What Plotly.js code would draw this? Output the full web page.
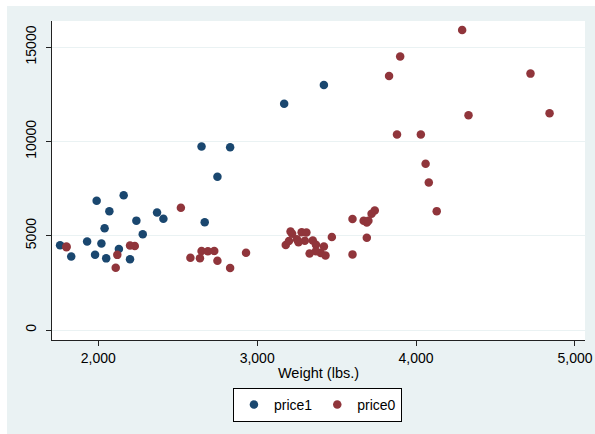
<!DOCTYPE html>
<html>
<head>
<meta charset="utf-8">
<script src="https://cdn.plot.ly/plotly-3.0.1.min.js"></script>
<style>html,body{margin:0;padding:0;background:#fff;}#chart{width:595px;height:434px;}</style>
</head>
<body>
<div id="chart"></div>
<script>
// Foreign cars (price1)
const weight1 = [2830, 2070, 2650, 2370, 2020, 2280, 2750, 2130, 2240, 1760, 1980, 3420, 1830, 2050, 2410, 2200, 2670, 2160, 2040, 1930, 1990, 3170];
const price1  = [9690, 6295, 9735, 6229, 4589, 5079, 8129, 4296, 5799, 4499, 3995, 12990, 3895, 3798, 5899, 3748, 5719, 7140, 5397, 4697, 6850, 11995];
// Domestic cars (price0)
const weight0 = [2930, 3350, 2640, 3250, 4080, 3670, 2230, 3280, 3880, 3400, 4330, 3900, 4290, 2110, 3690, 3180, 3220, 2750, 3430, 2120, 3600, 3600, 3740, 1800, 2650, 4840, 4720, 3830, 2580, 3720, 3370, 4130, 2830, 4060, 3310, 3300, 3690, 3370, 2730, 4030, 3260, 1800, 2200, 2520, 3330, 3700, 3470, 3210, 3200, 3420, 2690];
const price0  = [4099, 4749, 3799, 4816, 7827, 5788, 4453, 5189, 10372, 4082, 11385, 14500, 15906, 3299, 5705, 4504, 5104, 3667, 3955, 3984, 4010, 5886, 6342, 4389, 4187, 11497, 13594, 13466, 3829, 6165, 4516, 6303, 3291, 8814, 5172, 4733, 4890, 4181, 4195, 10371, 4647, 4425, 4482, 6486, 4060, 5798, 4934, 5222, 4723, 4424, 4172];
const seriesNames = ['price1', 'price0'];
const xTicks = [2000, 3000, 4000, 5000];
const yTicks = [0, 5000, 10000, 15000];

const bg = '#eaf2f3';
const fontFam = '"Liberation Sans", Arial, sans-serif';

const traces = [
  {x: weight1, y: price1, name: seriesNames[0], type: 'scatter', mode: 'markers',
   marker: {color: '#1a476f', size: 8.5, line: {width: 0}}},
  {x: weight0, y: price0, name: seriesNames[1], type: 'scatter', mode: 'markers',
   marker: {color: '#90353b', size: 8.5, line: {width: 0}}}
];

const layout = {
  width: 595, height: 434,
  margin: {l: 52, r: 10, t: 21, b: 94, pad: 0},
  paper_bgcolor: bg,
  plot_bgcolor: '#ffffff',
  font: {family: fontFam, size: 14, color: '#000'},
  showlegend: true,
  xaxis: {
    range: [1709, 5063], tickvals: xTicks, tickformat: ',',
    showgrid: false, zeroline: false,
    showline: true, linecolor: '#222', linewidth: 1,
    ticks: 'outside', ticklen: 5, tickcolor: '#222', tickwidth: 1,
    tickfont: {size: 14},
    title: {text: 'Weight (lbs.)', font: {size: 14.5}, standoff: 3}
  },
  yaxis: {
    range: [-530, 16384], tickvals: yTicks, tickformat: 'd',
    showgrid: true, gridcolor: bg, gridwidth: 1, zeroline: false,
    showline: true, linecolor: '#222', linewidth: 1,
    ticks: 'outside', ticklen: 5, tickcolor: '#222', tickwidth: 1,
    tickangle: -90, tickfont: {size: 14}, ticklabelstandoff: 4
  },
  legend: {
    orientation: 'h', x: 0.498, xanchor: 'center', y: -0.15, yanchor: 'top',
    bgcolor: '#ffffff', bordercolor: '#000', borderwidth: 1,
    font: {size: 14}, itemwidth: 30
  },
  shapes: [
    {type: 'rect', xref: 'paper', yref: 'paper', layer: 'below',
     x0: -0.12, x1: 1.05, y0: 1.0, y1: 1.2,
     fillcolor: '#ffffff', line: {width: 0}},
    {type: 'rect', xref: 'paper', yref: 'paper', layer: 'below',
     x0: -0.12, x1: (7 - 52) / 533, y0: -0.35, y1: 1.2,
     fillcolor: '#ffffff', line: {width: 0}},
    {type: 'rect', xref: 'paper', yref: 'paper', layer: 'below',
     x0: (7 - 52) / 533, x1: 1.05, y0: 1.0, y1: (340 - 6) / 319,
     fillcolor: bg, line: {width: 0}}
  ]
};

Plotly.newPlot('chart', traces, layout, {displayModeBar: false, staticPlot: true});
</script>
</body>
</html>
